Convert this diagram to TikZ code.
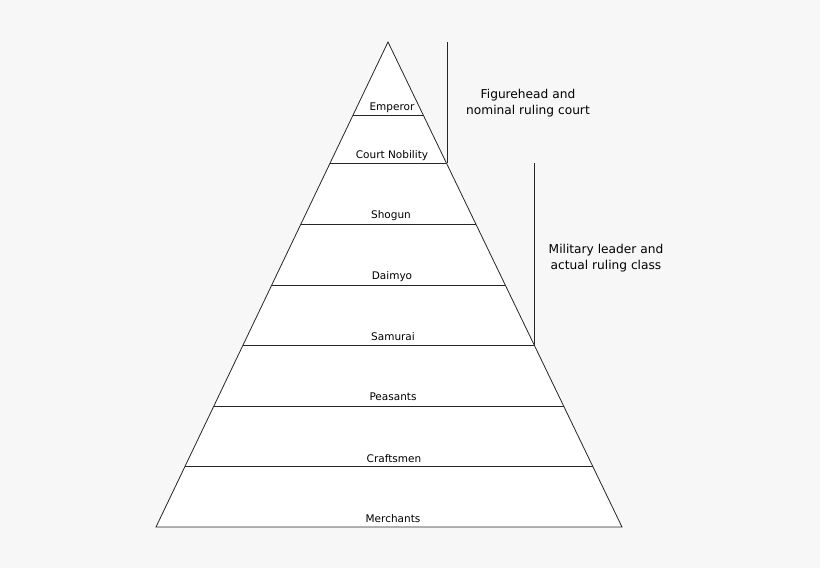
\documentclass[tikz,border=0pt]{standalone}
\usepackage{fontspec}
\setmainfont{DejaVu Sans}
\begin{document}
\begin{tikzpicture}[x=1pt,y=-1pt,
  lab/.style={font=\fontsize{10.5}{12}\selectfont, inner sep=0pt},
  side/.style={font=\fontsize{12.2}{15.5}\selectfont, align=center, inner sep=0pt},
  ln/.style={draw=black!85, line width=0.8pt}]
\fill[black!3] (0,0) rectangle (820,568);
\useasboundingbox (0,0) rectangle (820,568);
\coordinate (apex) at (388,42);
\coordinate (bl) at (156,527);
\coordinate (br) at (622,527);
\fill[white] (apex) -- (bl) -- (br) -- cycle;
\foreach \y in {115,163,224,285,345,406,466}{
  \pgfmathsetmacro{\xl}{388-(\y-42)/485*232}
  \pgfmathsetmacro{\xr}{388+(\y-42)/485*234}
  \draw[ln] (\xl,\y) -- (\xr,\y);
}
\draw[ln] (apex) -- (bl) -- (br) -- cycle;
\draw[ln] (447,42) -- (447,163);
\draw[ln] (534,163) -- (534,345);
\node[lab] (em) at (392,108) {Emperor};
\node[lab] (cn) at (392,156) {Court Nobility};
\node[lab] (sh) at (391,216) {Shogun};
\node[lab] (da) at (392,277) {Daimyo};
\node[lab] (sa) at (393,337) {Samurai};
\node[lab] (pe) at (393,397) {Peasants};
\node[lab] (cr) at (394,459) {Craftsmen};
\node[lab] (me) at (393,519) {Merchants};
\node[side] (fh) at (528,103) {Figurehead and\\nominal ruling court};
\node[side] (ml) at (606,258) {Military leader and\\actual ruling class};
\end{tikzpicture}
\end{document}
